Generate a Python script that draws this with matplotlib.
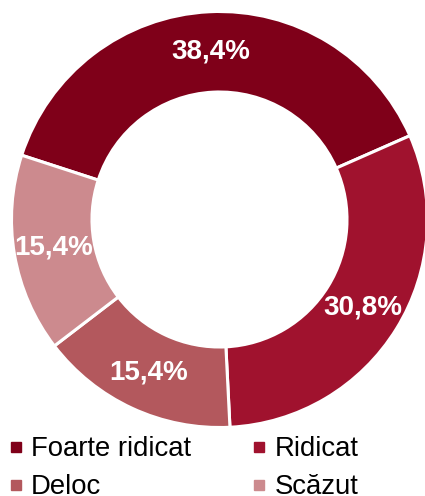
import matplotlib.pyplot as plt
from matplotlib.lines import Line2D

plt.rcParams["font.family"] = ["Liberation Sans", "DejaVu Sans"]

categories = ["Foarte ridicat", "Ridicat", "Deloc", "Scăzut"]
shares = [38.4, 30.8, 15.4, 15.4]
colors = ["#7F0019", "#A0122E", "#B3585D", "#CC8A8E"]


def fmt_pct(p):
    return f"{p:.1f}%".replace(".", ",")


W, H = 425, 496
fig = plt.figure(figsize=(W / 100, H / 100), dpi=100)

# pie area: centre (219.5, 219.5) px from top-left, outer radius 208 px
cx, cy, r = 219.5, 219.5, 208.0
ax = fig.add_axes([(cx - r) / W, (H - cy - r) / H, 2 * r / W, 2 * r / H])

wedges, texts, autotexts = ax.pie(
    shares,
    colors=colors,
    startangle=162,
    counterclock=False,
    radius=1.0,
    autopct=fmt_pct,
    pctdistance=0.81,
    wedgeprops=dict(width=0.387, edgecolor="white", linewidth=2.2),
    textprops=dict(color="white", fontsize=20, fontweight="bold"),
)
ax.set_xlim(-1, 1)
ax.set_ylim(-1, 1)
ax.set_aspect("equal")
ax.axis("off")

handles = [
    Line2D([], [], linestyle="none", marker="s", markersize=6.5,
           markerfacecolor=c, markeredgecolor=c)
    for c in colors
]
# two columns, row-major order like the original
order = [0, 2, 1, 3]
fig.legend(
    [handles[i] for i in order],
    [categories[i] for i in order],
    ncol=2,
    loc="upper left",
    bbox_to_anchor=(7.5 / W, 1 - 436.5 / H),
    frameon=False,
    fontsize=19.8,
    handlelength=0.6,
    handletextpad=0.24,
    columnspacing=2.2,
    labelspacing=0.425,
    borderpad=0,
    borderaxespad=0,
)

fig.savefig("out.png", dpi=100)
